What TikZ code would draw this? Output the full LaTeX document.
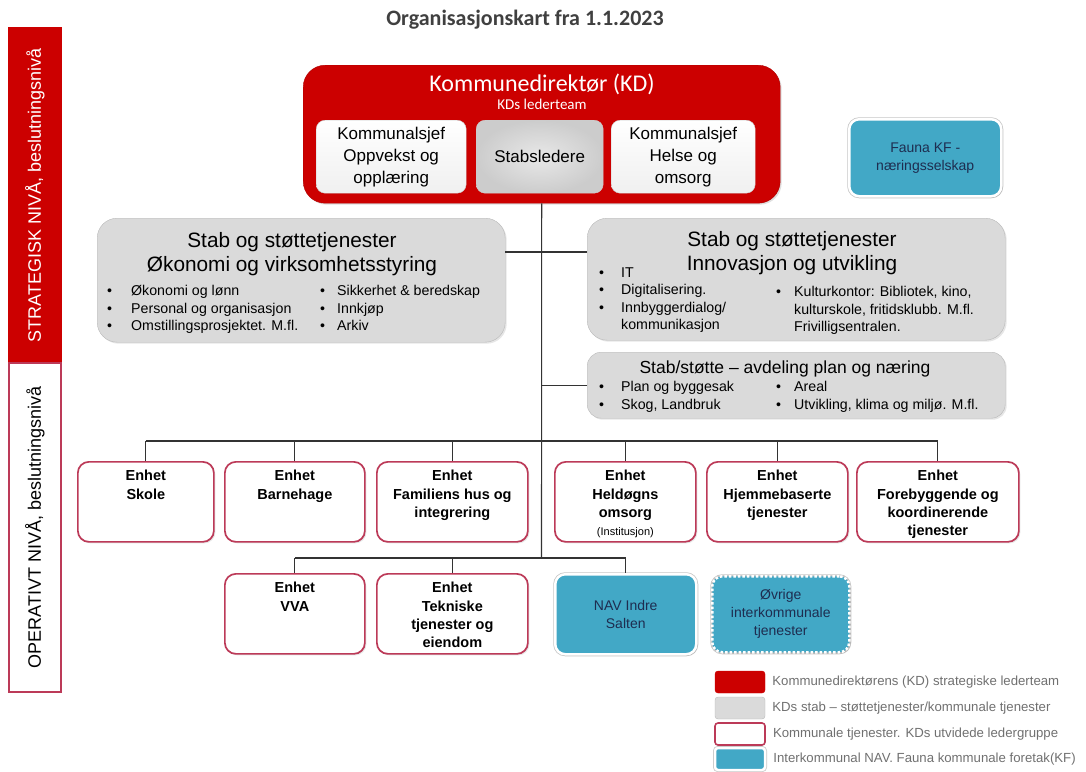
\documentclass[tikz,border=0pt]{standalone}
\usepackage{fontspec}
\setmainfont{Liberation Sans}
\newfontfamily\carlito{Carlito}
\usetikzlibrary{positioning,shadows}

\definecolor{kdred}{RGB}{204,0,0}
\definecolor{stabgray}{RGB}{218,218,218}
\definecolor{enhetrose}{RGB}{188,58,88}
\definecolor{nablue}{RGB}{66,168,198}
\definecolor{bluetext}{RGB}{30,45,80}
\definecolor{titlegray}{RGB}{64,64,64}
\definecolor{legendgray}{RGB}{112,112,112}

\newcommand{\fs}[2]{\fontsize{#1}{#2}\selectfont}
\newcommand{\bul}[1][24pt]{\makebox[#1][l]{\textbullet}}
\newcommand{\nobul}[1][24pt]{\makebox[#1][l]{}}

\begin{document}
\begin{tikzpicture}[x=1pt, y=-1pt,
    levelbox/.style={rotate=90, minimum height=52pt, line width=1.5pt, inner sep=0pt, font={\fs{18}{20}}},
    kdbox/.style={draw=kdred!85!black, fill=kdred, rounded corners=22pt, anchor=north west, inner sep=0pt,
        drop shadow={opacity=0.25, shadow xshift=1.5pt, shadow yshift=-1.5pt}},
    sjefbox/.style={draw=gray!40, top color=white, bottom color=gray!12, rounded corners=9pt, anchor=north west,
        align=center, inner sep=0pt, font={\fs{17}{22}}},
    stabbox/.style={draw=gray!55, fill=stabgray, rounded corners=20pt, anchor=north west, inner sep=0pt,
        drop shadow={opacity=0.2, shadow xshift=1.5pt, shadow yshift=-1.5pt}},
    stabtitle/.style={font={\fs{20.8}{24}}, align=center, anchor=north, inner sep=0pt},
    bullets/.style={font={\fs{14.2}{17.5}}, align=left, anchor=north west, inner sep=0pt},
    enhet/.style={draw=enhetrose, line width=1.7pt, fill=white, rounded corners=11pt, anchor=north west, inner sep=0pt,
        minimum height=80pt, drop shadow={opacity=0.2, shadow xshift=1.5pt, shadow yshift=-1.5pt}},
    enhettext/.style={font={\bfseries\fs{14.5}{18.3}}, align=center, inner sep=0pt},
    ikbox/.style={draw=white, line width=2.5pt, fill=nablue, rounded corners=10pt, anchor=north west, inner sep=0pt,
        align=center, text=bluetext, font={\fs{14}{18}}, preaction={draw=gray!45, line width=4pt, solid},
        drop shadow={opacity=0.2, shadow xshift=1.5pt, shadow yshift=-1.5pt}},
    conn/.style={draw=black!80, line width=1.1pt},
    legswatch/.style={minimum width=50pt, minimum height=22pt, rounded corners=3pt, inner sep=0pt},
    legtext/.style={font={\fs{13.2}{15}}, text=legendgray, inner sep=0pt}]

    \useasboundingbox (0,0) rectangle (1086,771);

    % Title
    \node[font={\carlito\bfseries\fs{22}{24}}, text=titlegray] (title) at (525,20) {Organisasjonskart fra 1.1.2023};

    % Level bar on the left
    \node[levelbox, fill=kdred, draw=kdred, text=white, minimum width=335pt] (strategisk) at (35,195.5) {STRATEGISK NIVÅ, beslutningsnivå};
    \node[levelbox, fill=white, draw=enhetrose, text=black, minimum width=329pt] (operativt) at (35,527.5) {OPERATIVT NIVÅ, beslutningsnivå};

    % Kommunedirektør and lederteam
    \node[kdbox, minimum width=477pt, minimum height=138pt] (kd) at (303,65) {};
    \node[font={\carlito\fs{24}{26}}, text=white] (kd-title) at (542,84) {Kommunedirektør (KD)};
    \node[font={\carlito\fs{15}{17}}, text=white] (kd-team) at (542,104) {KDs lederteam};
    \node[sjefbox, minimum width=150pt, minimum height=73pt] (oppvekst) at (316,120) {Kommunalsjef\\Oppvekst og\\opplæring};
    \node[sjefbox, inner color=gray!18, outer color=gray!40, minimum width=127pt, minimum height=73pt] (stabsledere) at (476,120) {Stabsledere};
    \node[sjefbox, minimum width=144pt, minimum height=73pt] (helse) at (611,120) {Kommunalsjef\\Helse og\\omsorg};

    \node[ikbox, minimum width=152pt, minimum height=77pt] (fauna) at (848,118) {Fauna KF -\\næringsselskap};

    % Stab og støttetjenester
    \node[stabbox, minimum width=408pt, minimum height=124pt] (okonomi) at (97,218) {};
    \node[stabtitle] (okonomi-title) at (292,232) {Stab og støttetjenester\\Økonomi og virksomhetsstyring};
    \node[bullets] (okonomi-a) at (107,285.5) {\bul Økonomi og lønn\\\bul Personal og organisasjon\\\bul Omstillingsprosjektet. M.fl.};
    \node[bullets] (okonomi-b) at (320,285.5) {\bul[17pt]Sikkerhet \& beredskap\\\bul[17pt]Innkjøp\\\bul[17pt]Arkiv};

    \node[stabbox, minimum width=418pt, minimum height=122pt] (innovasjon) at (587,218) {};
    \node[stabtitle] (innovasjon-title) at (792,231.5) {Stab og støttetjenester\\Innovasjon og utvikling};
    \node[bullets] (innovasjon-a) at (599,267.5) {\bul[22pt]IT\\\bul[22pt]Digitalisering.\\\bul[22pt]Innbyggerdialog/\\\nobul[22pt]kommunikasjon};
    \node[bullets] (innovasjon-b) at (776,286.5) {\bul[18pt]Kulturkontor: Bibliotek, kino,\\\nobul[18pt]kulturskole, fritidsklubb. M.fl.\\\nobul[18pt]Frivilligsentralen.};

    \node[stabbox, rounded corners=14pt, minimum width=418pt, minimum height=66pt] (plan) at (587,352) {};
    \node[stabtitle, font={\fs{17.5}{20}}] (plan-title) at (785,360.5) {Stab/støtte – avdeling plan og næring};
    \node[bullets] (plan-a) at (599,381.5) {\bul[22pt]Plan og byggesak\\\bul[22pt]Skog, Landbruk};
    \node[bullets] (plan-b) at (776,381.5) {\bul[18pt]Areal\\\bul[18pt]Utvikling, klima og miljø. M.fl.};

    % First row of enheter
    \node[enhet, minimum width=136pt] (skole) at (77,461) {};
    \node[enhet, minimum width=140pt] (barnehage) at (224,461) {};
    \node[enhet, minimum width=151pt] (familie) at (376,461) {};
    \node[enhet, minimum width=141pt] (heldogn) at (554,461) {};
    \node[enhet, minimum width=141pt] (hjemme) at (706,461) {};
    \node[enhet, minimum width=162pt] (forebygg) at (856,461) {};

    \node[enhettext, below=9pt of skole.north] (skole-text) {Enhet\\Skole};
    \node[enhettext, below=9pt of barnehage.north] (barnehage-text) {Enhet\\Barnehage};
    \node[enhettext, below=9pt of familie.north] (familie-text) {Enhet\\Familiens hus og\\integrering};
    \node[enhettext, below=9pt of heldogn.north] (heldogn-text) {Enhet\\Heldøgns\\omsorg\\{\mdseries\fs{11}{14}(Institusjon)}};
    \node[enhettext, below=9pt of hjemme.north] (hjemme-text) {Enhet\\Hjemmebaserte\\tjenester};
    \node[enhettext, below=9pt of forebygg.north] (forebygg-text) {Enhet\\Forebyggende og\\koordinerende\\tjenester};

    % Second row
    \node[enhet, minimum width=140pt] (vva) at (224,573) {};
    \node[enhet, minimum width=151pt] (teknisk) at (376,573) {};
    \node[enhettext, below=9pt of vva.north] (vva-text) {Enhet\\VVA};
    \node[enhettext, below=9pt of teknisk.north] (teknisk-text) {Enhet\\Tekniske\\tjenester og\\eiendom};
    \node[ikbox, minimum width=141pt, minimum height=80pt] (nav) at (554,573) {NAV Indre\\Salten};
    \node[ikbox, dash pattern=on 2.5pt off 2pt, minimum width=137pt, minimum height=76pt] (ovrige) at (711,575) {Øvrige\\interkommunale\\tjenester};

    % Connectors
    \coordinate (stab-join) at (541.5,252);
    \coordinate (bar1) at (541.5,441);
    \coordinate (bar2) at (541.5,558);
    \draw[conn] (kd.south) -- (bar2);
    \draw[conn] (stab-join -| okonomi.east) -- (stab-join -| innovasjon.west);
    \draw[conn] (plan.west) -- (plan.west -| kd.south);
    \draw[conn] (bar1 -| skole.north) -- (bar1 -| forebygg.north);
    \draw[conn] (skole.north |- bar1) -- (skole.north);
    \draw[conn] (barnehage.north |- bar1) -- (barnehage.north);
    \draw[conn] (familie.north |- bar1) -- (familie.north);
    \draw[conn] (heldogn.north |- bar1) -- (heldogn.north);
    \draw[conn] (hjemme.north |- bar1) -- (hjemme.north);
    \draw[conn] (forebygg.north |- bar1) -- (forebygg.north);
    \draw[conn] (bar2 -| vva.north) -- (bar2 -| nav.north);
    \draw[conn] (vva.north |- bar2) -- (vva.north);
    \draw[conn] (teknisk.north |- bar2) -- (teknisk.north);
    \draw[conn] (nav.north |- bar2) -- (nav.north);

    % Legend
    \node[legswatch, fill=kdred, draw=kdred] (leg-kd) at (740,682) {};
    \node[legswatch, fill=stabgray, draw=gray!55] (leg-stab) at (740,708) {};
    \node[legswatch, fill=white, draw=enhetrose, line width=1.6pt] (leg-enhet) at (740,734) {};
    \node[legswatch, fill=nablue, draw=white, line width=2.5pt, preaction={draw=gray!45, line width=4pt}] (leg-ik) at (740,759) {};
    \node[legtext, anchor=west, right=7pt of leg-kd] (leg-kd-text) {Kommunedirektørens (KD) strategiske lederteam};
    \node[legtext, anchor=west, right=7pt of leg-stab] (leg-stab-text) {KDs stab – støttetjenester/kommunale tjenester};
    \node[legtext, anchor=west, right=7pt of leg-enhet] (leg-enhet-text) {Kommunale tjenester. KDs utvidede ledergruppe};
    \node[legtext, anchor=west, right=7pt of leg-ik] (leg-ik-text) {Interkommunal NAV. Fauna kommunale foretak(KF)};

\end{tikzpicture}
\end{document}
